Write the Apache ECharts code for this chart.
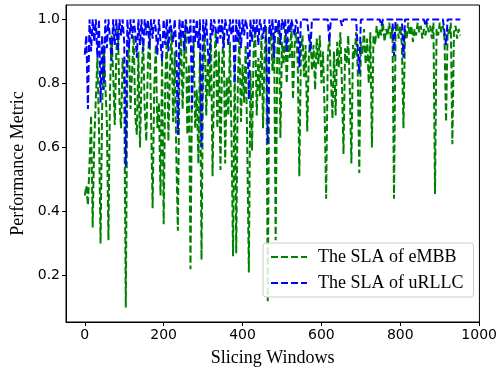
<!DOCTYPE html>
<html>
<head>
<meta charset="utf-8">
<script src="https://cdn.jsdelivr.net/npm/echarts@6/dist/echarts.min.js"></script>
<style>
  html, body { margin: 0; padding: 0; background: #fff; }
  #chart { width: 500px; height: 372px; }
</style>
</head>
<body>
<div id="chart"></div>
<script>
// one sample every 4 slicing windows
const windowStep = 4;

const embbSla = [
  0.45, 0.48, 0.42, 0.55, 0.70, 0.35, 0.62, 0.75, 0.88, 0.66,
  0.30, 0.72, 0.92, 0.80, 0.68, 0.31, 0.78, 0.95, 0.83, 0.67,
  0.90, 0.97, 0.74, 0.66, 0.88, 0.80, 0.10, 0.85, 0.93, 0.72,
  0.84, 0.95, 0.70, 0.64, 0.90, 0.60, 0.82, 0.94, 0.72, 0.62,
  0.86, 0.98, 0.70, 0.41, 0.78, 0.92, 0.66, 0.74, 0.45, 0.88,
  0.36, 0.80, 0.95, 0.62, 0.84, 0.97, 0.68, 0.90, 0.58, 0.34,
  0.82, 0.96, 0.72, 0.88, 0.99, 0.64, 0.86, 0.22, 0.80, 0.93,
  0.66, 0.78, 0.55, 0.90, 0.25, 0.85, 0.96, 0.70, 0.88, 0.76,
  0.94, 0.51, 0.84, 0.97, 0.66, 0.90, 0.53, 0.86, 0.96, 0.55,
  0.82, 0.70, 0.93, 0.64, 0.26, 0.88, 0.27, 0.80, 0.95, 0.68,
  0.86, 0.74, 0.92, 0.60, 0.21, 0.84, 0.59, 0.90, 0.97, 0.70,
  0.88, 0.76, 0.95, 0.66, 0.90, 0.98, 0.12, 0.92, 0.97, 0.84,
  0.96, 0.31, 0.90, 0.98, 0.63, 0.93, 0.86, 0.97, 0.80, 0.94,
  0.88, 0.98, 0.75, 0.92, 0.96, 0.86, 0.51, 0.90, 0.95, 0.82,
  0.92, 0.65, 0.88, 0.96, 0.84, 0.92, 0.78, 0.94, 0.86, 0.95,
  0.80, 0.90, 0.72, 0.44, 0.88, 0.95, 0.82, 0.69, 0.90, 0.70,
  0.93, 0.85, 0.96, 0.80, 0.58, 0.91, 0.86, 0.95, 0.78, 0.55,
  0.92, 0.88, 0.96, 0.84, 0.52, 0.93, 0.89, 0.97, 0.86, 0.94,
  0.80, 0.96, 0.60, 0.95, 0.92, 0.98, 0.94, 0.97, 0.95, 0.99,
  0.93, 0.97, 0.95, 0.99, 0.94, 0.98, 0.44, 0.96, 0.99, 0.94,
  0.98, 0.92, 0.66, 0.97, 0.94, 0.99, 0.95, 0.98, 0.93, 0.97,
  0.95, 0.99, 0.96, 0.98, 0.94, 0.97, 0.95, 0.99, 0.96, 0.98,
  0.94, 0.99, 0.455, 0.97, 0.95, 0.99, 0.96, 0.98, 0.94, 0.68,
  0.97, 0.95, 0.99, 0.61, 0.96, 0.98, 0.94, 0.97, 0.95
];

const urllcSla = [
  0.89, 0.95, 0.72, 1.0, 0.90, 1.0, 0.93, 1.0, 0.88, 1.0,
  0.74, 0.95, 0.78, 1.0, 0.91, 1.0, 0.94, 0.87, 1.0, 0.92,
  1.0, 0.90, 1.0, 0.95, 1.0, 0.93, 0.54, 1.0, 0.91, 1.0,
  0.94, 1.0, 0.96, 0.88, 1.0, 0.92, 1.0, 0.90, 1.0, 0.95,
  1.0, 0.91, 1.0, 0.94, 1.0, 0.97, 0.89, 1.0, 0.93, 0.87,
  1.0, 0.92, 1.0, 0.90, 1.0, 0.96, 0.93, 1.0, 0.91, 0.64,
  1.0, 0.94, 1.0, 0.90, 1.0, 0.97, 0.92, 1.0, 0.72, 1.0,
  0.93, 1.0, 0.91, 1.0, 0.60, 1.0, 0.94, 1.0, 0.90, 0.86,
  1.0, 0.95, 1.0, 0.97, 0.92, 1.0, 0.94, 1.0, 0.91, 1.0,
  0.97, 0.92, 1.0, 0.95, 1.0, 0.80, 1.0, 0.93, 1.0, 0.91,
  1.0, 0.95, 1.0, 0.97, 0.75, 1.0, 0.93, 1.0, 0.95, 1.0,
  0.92, 1.0, 0.97, 0.94, 1.0, 0.93, 0.61, 1.0, 0.95, 1.0,
  0.88, 1.0, 0.96, 1.0, 0.92, 1.0, 0.97, 1.0, 0.90, 1.0,
  0.96, 1.0, 1.0, 0.95, 1.0, 0.98, 0.85, 1.0, 1.0, 1.0,
  1.0, 1.0, 1.0, 0.90, 1.0, 1.0, 1.0, 1.0, 1.0, 1.0,
  1.0, 1.0, 1.0, 1.0, 1.0, 0.93, 1.0, 1.0, 1.0, 1.0,
  1.0, 1.0, 1.0, 0.98, 1.0, 1.0, 1.0, 1.0, 1.0, 1.0,
  1.0, 1.0, 1.0, 1.0, 0.83, 1.0, 1.0, 1.0, 1.0, 1.0,
  1.0, 1.0, 1.0, 1.0, 1.0, 1.0, 1.0, 1.0, 0.98, 1.0,
  1.0, 1.0, 1.0, 1.0, 1.0, 1.0, 0.885, 1.0, 1.0, 1.0,
  1.0, 1.0, 0.88, 1.0, 1.0, 1.0, 1.0, 1.0, 1.0, 1.0,
  1.0, 1.0, 1.0, 1.0, 1.0, 1.0, 0.98, 1.0, 1.0, 1.0,
  1.0, 1.0, 1.0, 1.0, 1.0, 1.0, 1.0, 1.0, 1.0, 0.92,
  1.0, 1.0, 1.0, 1.0, 1.0, 1.0, 1.0, 1.0, 1.0
];

const xTicks = [0, 200, 400, 600, 800, 1000];
const yTicks = [0.2, 0.4, 0.6, 0.8, 1.0];

const chart = echarts.init(document.getElementById("chart"), null, { renderer: "canvas" });

const toPoints = (vals) => vals.map((v, i) => [i * windowStep, v]);

const tickFont = { fontFamily: "DejaVu Sans", fontSize: 14, color: "#000" };
const titleFont = { fontFamily: "Liberation Serif", fontSize: 18, color: "#000" };

const option = {
  animation: false,
  backgroundColor: "#fff",
  grid: {
    left: 66,
    right: 19,
    top: 5,
    bottom: 47,
    show: true,
    borderColor: "#000",
    borderWidth: 1,
  },
  legend: {
    orient: "vertical",
    left: 263,
    top: 243,
    itemWidth: 36,
    itemHeight: 14,
    itemGap: 8,
    padding: [5, 10, 5, 7],
    backgroundColor: "rgba(255,255,255,0.85)",
    borderColor: "#ccc",
    borderWidth: 1,
    borderRadius: 3,
    itemStyle: { opacity: 0 },
    textStyle: { fontFamily: "Liberation Serif", fontSize: 18, color: "#000", padding: [0, 0, 0, 6] },
    data: ["The SLA of eMBB", "The SLA of uRLLC"],
  },
  xAxis: {
    type: "value",
    min: -47.6,
    max: 1000.6,
    name: "Slicing Windows",
    nameLocation: "middle",
    nameGap: 27,
    nameTextStyle: titleFont,
    axisLine: { show: true, onZero: false, lineStyle: { color: "#000", width: 1 } },
    axisTick: { show: true, inside: false, length: 4, customValues: xTicks, lineStyle: { color: "#000" } },
    axisLabel: { customValues: xTicks, margin: 6, formatter: (v) => String(v), ...tickFont },
    splitLine: { show: false },
  },
  yAxis: {
    type: "value",
    min: 0.055,
    max: 1.045,
    name: "Performance Metric",
    nameLocation: "middle",
    nameGap: 38,
    nameTextStyle: titleFont,
    axisLine: { show: true, onZero: false, lineStyle: { color: "#000", width: 1 } },
    axisTick: { show: true, inside: false, length: 4, customValues: yTicks, lineStyle: { color: "#000" } },
    axisLabel: { customValues: yTicks, margin: 6, formatter: (v) => v.toFixed(1), ...tickFont },
    splitLine: { show: false },
  },
  series: [
    {
      name: "The SLA of eMBB",
      type: "line",
      data: toPoints(embbSla),
      showSymbol: false,
      symbol: "none",
      lineStyle: { color: "#008000", width: 2, type: [7, 3] },
      itemStyle: { color: "#008000" },
    },
    {
      name: "The SLA of uRLLC",
      type: "line",
      data: toPoints(urllcSla),
      showSymbol: false,
      symbol: "none",
      lineStyle: { color: "#0000ff", width: 2, type: [7, 3] },
      itemStyle: { color: "#0000ff" },
    },
  ],
};

chart.setOption(option);
</script>
</body>
</html>
